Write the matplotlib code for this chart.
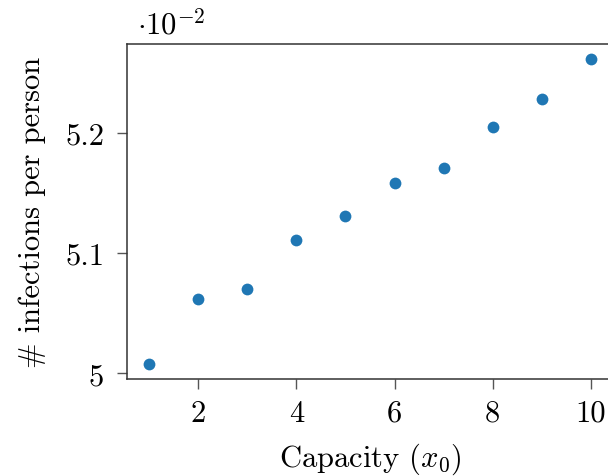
import matplotlib
matplotlib.use('Agg')
import matplotlib.pyplot as plt
from matplotlib.ticker import FuncFormatter

# capacity vs infections per person
capacity = [1, 2, 3, 4, 5, 6, 7, 8, 9, 10]
infections = [0.05008, 0.05062, 0.05070, 0.05111, 0.05131,
              0.05158, 0.05171, 0.05205, 0.05228, 0.05261]
y_ticks = [0.050, 0.051, 0.052]
x_ticks = [2, 4, 6, 8, 10]

plt.rcParams['font.family'] = 'cmr10'
plt.rcParams['mathtext.fontset'] = 'cm'
plt.rcParams['axes.unicode_minus'] = False

fig = plt.figure(figsize=(6.08, 4.77), dpi=100)
ax = fig.add_axes([127 / 608, 1 - 380 / 477, 486 / 608, 335 / 477])

ax.scatter(capacity, infections, s=72, color='#1f77b4', zorder=3, linewidths=0)

ax.set_xticks(x_ticks)
ax.set_yticks(y_ticks)
ax.yaxis.set_major_formatter(FuncFormatter(lambda v, p: '{:g}'.format(round(v * 100, 4))))
ax.tick_params(labelsize=22, length=7.5, width=1, color='#555555')
ax.tick_params(axis='y', pad=9)
ax.tick_params(axis='x', pad=7)
for sp in ax.spines.values():
    sp.set_color('#333333')
    sp.set_linewidth(1.1)

ax.set_xlabel(r'Capacity ($x_0$)', fontsize=22, labelpad=10)
ax.set_ylabel('# infections per person', fontsize=22, labelpad=14)

fig.text(137 / 608, 1 - 34 / 477, r'$\cdot 10^{-2}$', fontsize=22)

fig.savefig('out.png', dpi=100)
